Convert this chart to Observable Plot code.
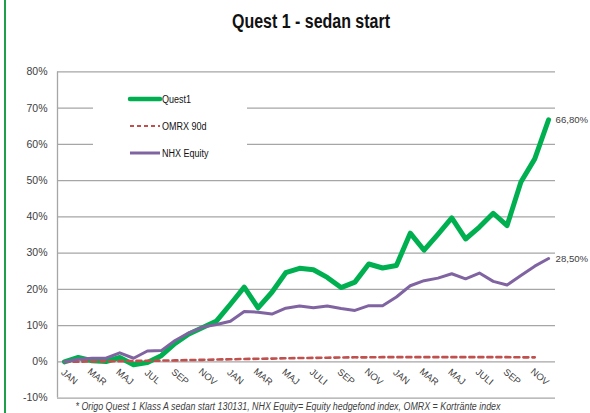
<!DOCTYPE html>
<html>
<head>
<meta charset="utf-8">
<script src="https://cdn.jsdelivr.net/npm/d3@7"></script>
<script src="https://cdn.jsdelivr.net/npm/@observablehq/plot@0.6"></script>
<style>
  html, body { margin: 0; padding: 0; background: #fff; }
  #wrap { position: relative; width: 590px; height: 413px; background: #fff; overflow: hidden; font-family: "Liberation Sans", Arial, sans-serif; }
  #border { position: absolute; left: 4px; top: 0; width: 2px; height: 413px; background: #1f9e4b; }
  #title { position: absolute; left: 0; top: 0; }
  #chart { position: absolute; left: 0; top: 50px; }
  #legend { position: absolute; left: 93px; top: 76px; width: 154px; height: 100px; background: #fff; }
  #caption { position: absolute; left: 0; top: 400px; }
</style>
</head>
<body>
<div id="wrap">
  <div id="border"></div>
  <svg id="title" width="590" height="40">
    <text x="311" y="28" text-anchor="middle" textLength="158" lengthAdjust="spacingAndGlyphs"
      font-family="Liberation Sans, Arial, sans-serif" font-weight="bold" font-size="19.5" fill="#111">Quest 1 - sedan start</text>
  </svg>
  <div id="chart"></div>
  <svg id="legend" width="154" height="100"></svg>
  <svg id="caption" width="590" height="13">
    <text x="288" y="10" text-anchor="middle" textLength="425" lengthAdjust="spacingAndGlyphs"
      font-family="Liberation Sans, Arial, sans-serif" font-style="italic" font-size="10" fill="#404040">* Origo Quest 1 Klass A sedan start 130131, NHX Equity= Equity hedgefond index, OMRX = Kortränte index</text>
  </svg>
</div>
<script>
// ---- Data (percent, monthly Jan 2013 – Dec 2015) ----
const months = ["JAN","FEB","MAR","APR","MAJ","JUN","JUL","AUG","SEP","OKT","NOV","DEC",
                "JAN","FEB","MAR","APR","MAJ","JUN","JULI","AUG","SEP","OKT","NOV","DEC",
                "JAN","FEB","MAR","APR","MAJ","JUN","JULI","AUG","SEP","OKT","NOV","DEC"];
const quest1 = [0, 1.2, 0.3, 0.1, 1.2, -0.8, -0.2, 1.7, 5.1, 7.7, 9.5, 11.3,
                15.9, 20.6, 14.9, 19.2, 24.6, 25.8, 25.4, 23.3, 20.5, 22.0, 27.0, 25.9,
                26.6, 35.5, 30.8, 35.2, 39.7, 33.9, 37.2, 41.0, 37.6, 49.6, 56.0, 66.8];
const omrx   = [0, 0.05, 0.1, 0.15, 0.2, 0.25, 0.3, 0.35, 0.4, 0.5, 0.55, 0.65,
                0.7, 0.8, 0.85, 0.9, 1.0, 1.05, 1.1, 1.15, 1.2, 1.25, 1.25, 1.3,
                1.3, 1.3, 1.3, 1.3, 1.3, 1.3, 1.3, 1.3, 1.3, 1.25, 1.25];
const nhx    = [0, 0.7, 1.0, 1.0, 2.5, 1.0, 3.0, 3.1, 5.9, 8.0, 9.6, 10.3,
                11.2, 13.9, 13.7, 13.2, 14.8, 15.4, 14.9, 15.4, 14.7, 14.2, 15.5, 15.5,
                17.9, 21.0, 22.4, 23.1, 24.3, 22.9, 24.5, 22.2, 21.2, 23.8, 26.4, 28.5];
const yTicks = [-10, 0, 10, 20, 30, 40, 50, 60, 70, 80];
const seriesNames = ["Quest1", "OMRX 90d", "NHX Equity"];
const seriesColors = ["#00b050", "#c0504d", "#8064a2"];

const xDomain = [-0.5, months.length - 0.5];
const tickIdx = months.map((m, i) => i).filter(i => i % 2 === 0);
const fmt = v => v.toFixed(2).replace(".", ",") + "%";
const endLabels = [
  {i: quest1.length - 1, v: quest1[quest1.length - 1]},
  {i: nhx.length - 1, v: nhx[nhx.length - 1]}
];

const chart = Plot.plot({
  width: 590,
  height: 352,
  marginLeft: 57,
  marginRight: 35,
  marginTop: 21.4,
  marginBottom: 4.4,
  style: {fontFamily: "Liberation Sans, Arial, sans-serif", fontSize: "10px", color: "#404040", background: "transparent"},
  x: {domain: xDomain, axis: null},
  y: {domain: [yTicks[0], yTicks[yTicks.length - 1]], axis: null},
  marks: [
    Plot.ruleY(yTicks, {stroke: "#a6a6a6", strokeWidth: 1.3}),
    Plot.ruleX([xDomain[0]], {stroke: "#a6a6a6", strokeWidth: 1.3}),
    Plot.text(yTicks, {x: xDomain[0], y: d => d, text: d => d + "%", textAnchor: "end", dx: -10, fill: "#404040", fontSize: 10.5}),
    Plot.line(quest1, {x: (d, i) => i, y: d => d, stroke: seriesColors[0], strokeWidth: 5, strokeLinejoin: "round", strokeLinecap: "round"}),
    Plot.line(omrx, {x: (d, i) => i, y: d => d, stroke: seriesColors[1], strokeWidth: 2.6, strokeDasharray: "5,4"}),
    Plot.line(nhx, {x: (d, i) => i, y: d => d, stroke: seriesColors[2], strokeWidth: 3, strokeLinejoin: "round", strokeLinecap: "round"}),
    Plot.text(tickIdx, {x: d => d, y: 0, text: d => months[d], rotate: 40, dx: 5, dy: 15, textAnchor: "middle", fill: "#404040", fontSize: 9.5}),
    Plot.text(endLabels, {x: "i", y: "v", text: d => fmt(d.v), textAnchor: "start", dx: 7, fill: "#404040", fontSize: 9.6})
  ]
});
document.getElementById("chart").appendChild(chart);

// ---- Legend ----
const lg = d3.select("#legend");
const rowsY = [23, 50, 77];
seriesNames.forEach((name, k) => {
  const line = lg.append("line")
    .attr("x1", 37).attr("x2", 67).attr("y1", rowsY[k]).attr("y2", rowsY[k])
    .attr("stroke", seriesColors[k])
    .attr("stroke-width", k === 0 ? 4.5 : (k === 1 ? 2.2 : 3))
    .attr("stroke-linecap", k === 0 ? "round" : "butt");
  if (k === 1) line.attr("stroke-dasharray", "4,3");
  lg.append("g").attr("transform", `translate(69,${rowsY[k] + 4}) scale(0.82,1)`)
    .append("text").attr("x", 0).attr("y", 0)
    .attr("font-family", "Liberation Sans, Arial, sans-serif").attr("font-size", 11).attr("fill", "#111")
    .text(name);
});
</script>
</body>
</html>
